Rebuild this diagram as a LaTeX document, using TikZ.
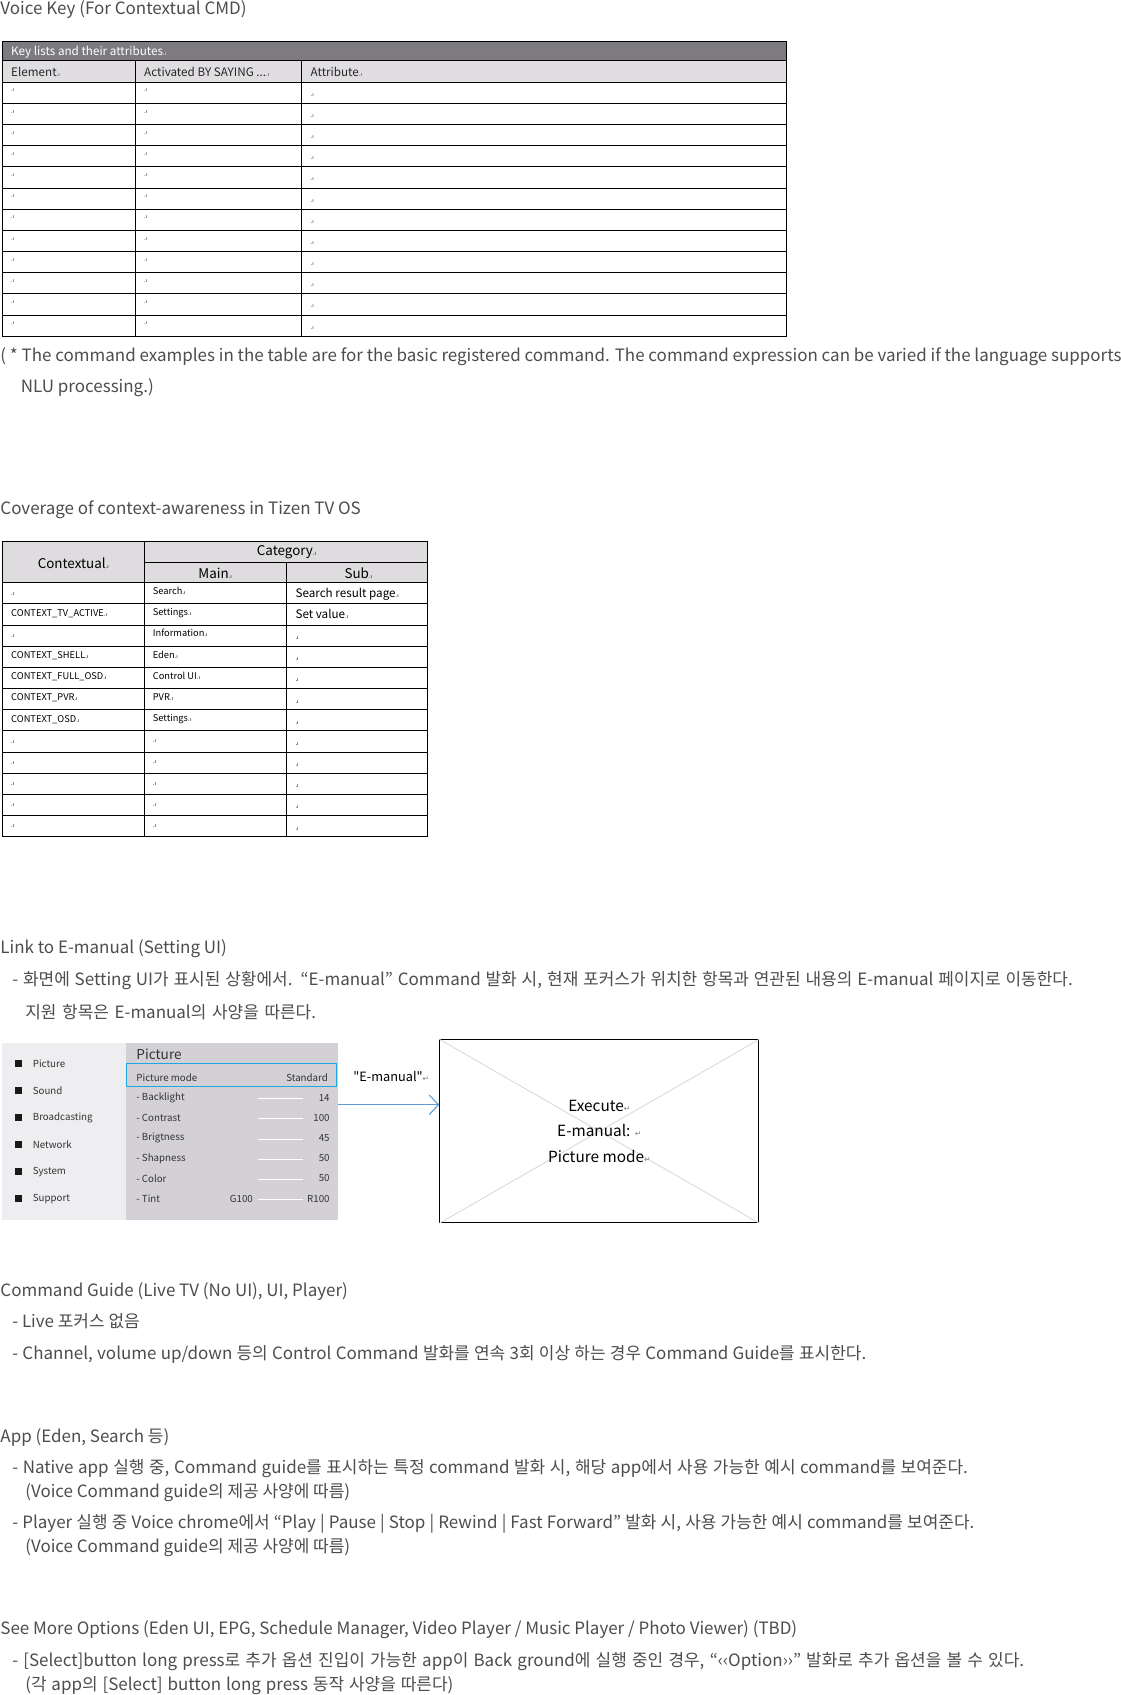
\documentclass[tikz,border=0pt]{standalone}
\usepackage{fontspec}
\setmainfont{Noto Sans CJK KR}
\newfontfamily\symfont{DejaVu Sans}
\newfontfamily\plainfont{Noto Sans CJK KR}
\usetikzlibrary{arrows.meta,positioning}

\definecolor{bodygray}{HTML}{4D4D4D}
\definecolor{keyhead}{HTML}{7D7B7F}
\definecolor{colhead}{HTML}{E0DEE1}
\definecolor{ctxhead}{HTML}{DEDCDE}
\definecolor{menubg}{HTML}{EEEDF0}
\definecolor{panelbg}{HTML}{D4D1D6}
\definecolor{focusblue}{HTML}{1EA6E4}
\definecolor{linkblue}{HTML}{5B9BD5}
\definecolor{crossgray}{HTML}{D9D9D9}

\newcommand{\cellmark}{{\symfont\fontsize{2.4}{3}\selectfont .ı}}
\newcommand{\retmark}{{\symfont\color{gray}\fontsize{3.6}{4}\selectfont ↵}}
\newcommand{\fitline}[2]{\makebox[#1][s]{#2}}

\tikzset{
  body/.style={anchor=base west, inner sep=0pt, text=bodygray,
    font=\fontsize{7.85}{9}\selectfont},
  tabline/.style={draw=black, line width=0.45pt},
  keytext/.style={anchor=base west, inner sep=0pt, text=black!85,
    font=\fontsize{5.4}{6}\selectfont},
  ctxtext/.style={anchor=base west, inner sep=0pt,
    font=\fontsize{4.3}{5}\selectfont},
  ctxtitle/.style={inner sep=0pt, font=\fontsize{6.2}{7}\selectfont},
  subtext/.style={anchor=base west, inner sep=0pt,
    font=\fontsize{5.4}{6}\selectfont},
  uitext/.style={anchor=west, inner sep=0pt, text=black!80,
    font=\fontsize{4.5}{5}\selectfont},
  uivalue/.style={anchor=east, inner sep=0pt, text=black!80,
    font=\fontsize{4.5}{5}\selectfont},
  menubox/.style={fill=black!90, inner sep=0pt, minimum size=3.1pt},
  linkarrow/.style={draw=linkblue, line width=0.5pt,
    -{Straight Barb[length=4.3pt,width=9pt]}}
}

\begin{document}
\begin{tikzpicture}[x=0.5pt,y=-0.5pt]
	\useasboundingbox (0,0) rectangle (1037,1568);
	\fill[white] (0,0) rectangle (1037,1568);

	% Voice key table
	\node[body] (title1) at (0,13) {Voice Key (For Contextual CMD)};
	\fill[keyhead] (2,38) rectangle (728,56);
	\fill[colhead] (2,56) rectangle (728,76);
	\draw[tabline] (2,38) rectangle (728,311);
	\draw[tabline] (2,56) -- (728,56);
	\foreach \i in {0,...,11}
		\draw[tabline] (2,{76+19.583*\i}) -- (728,{76+19.583*\i});
	\foreach \x in {125,279}
		\draw[tabline] (\x,56) -- (\x,311);
	\node[keytext, text=white] (keytitle) at (10,51) {Key lists and their attributes\cellmark};
	\node[keytext] (keyelem) at (10,70.5) {Element\cellmark};
	\node[keytext] (keysay) at (133,70.5) {Activated BY SAYING ...\cellmark};
	\node[keytext] (keyattr) at (287,70.5) {Attribute\cellmark};
	\foreach \i in {0,...,11} {
		\node[keytext] (ke\i) at (10,{76+19.583*\i+9}) {\cellmark};
		\node[keytext] (ks\i) at (133,{76+19.583*\i+9}) {\cellmark};
		\node[keytext] (ka\i) at (287,{76+19.583*\i+13}) {\cellmark};
	}
	\node[body] (note1) at (0,334) {( * The command examples in the table are for the basic registered command. The command expression can be varied if the language supports};
	\node[body] (note2) at (19,363) {NLU processing.)};

	% Context table
	\node[body] (title2) at (0,476) {Coverage of context-awareness in Tizen TV OS};
	\fill[ctxhead] (2,501) rectangle (395.5,539);
	\draw[tabline] (2,501) rectangle (395.5,774);
	\draw[tabline] (133.5,520) -- (395.5,520);
	\draw[tabline] (133.5,501) -- (133.5,774);
	\draw[tabline] (265,520) -- (265,774);
	\foreach \i in {0,...,11}
		\draw[tabline] (2,{539+19.583*\i}) -- (395.5,{539+19.583*\i});
	\node[ctxtitle] (ctxhd) at (67.75,521) {Contextual\cellmark};
	\node[ctxtitle] (cathd) at (265,511) {Category\cellmark};
	\node[ctxtitle] (mainhd) at (199,530.3) {Main\cellmark};
	\node[ctxtitle] (subhd) at (331.5,530.3) {Sub\cellmark};
	\foreach \ctx/\main/\sub [count=\i from 0] in {
		\cellmark/Search\cellmark/Search result page\cellmark,
		CONTEXT\_TV\_ACTIVE\cellmark/Settings\cellmark/Set value\cellmark,
		\cellmark/Information\cellmark/\cellmark,
		CONTEXT\_SHELL\cellmark/Eden\cellmark/\cellmark,
		CONTEXT\_FULL\_OSD\cellmark/Control UI\cellmark/\cellmark,
		CONTEXT\_PVR\cellmark/PVR\cellmark/\cellmark,
		CONTEXT\_OSD\cellmark/Settings\cellmark/\cellmark,
		\cellmark/\cellmark/\cellmark,
		\cellmark/\cellmark/\cellmark,
		\cellmark/\cellmark/\cellmark,
		\cellmark/\cellmark/\cellmark,
		\cellmark/\cellmark/\cellmark} {
		\node[ctxtext] (cc\i) at (10,{539+19.583*\i+11.5}) {\ctx};
		\node[ctxtext] (cm\i) at (141,{539+19.583*\i+11}) {\main};
		\node[subtext] (cs\i) at (273,{539+19.583*\i+13.5}) {\sub};
	}

	% Link to E-manual
	\node[body] (title3) at (0,882) {Link to E-manual (Setting UI)};
	\node[body] (t3a) at (11,912) {\fitline{490.5pt}{- 화면에 Setting UI가 표시된 상황에서. “E-manual” Command 발화 시, 현재 포커스가 위치한 항목과 연관된 내용의 E-manual 페이지로 이동한다.}};
	\node[body] (t3b) at (23,942) {\fitline{134.5pt}{지원 항목은 E-manual의 사양을 따른다.}};

	% setting UI
	\node[fill=menubg, inner sep=0pt, minimum width=57.55pt, minimum height=82.25pt,
		anchor=north west] (menu) at (1.5,964) {};
	\node[fill=panelbg, inner sep=0pt, minimum width=97.85pt, minimum height=82.25pt,
		anchor=north west] (rpanel) at (116.6,964) {};
	\foreach \item [count=\i from 0] in {Picture,Sound,Broadcasting,Network,System,Support} {
		\node[menubox] (mb\i) at (17,{984+25*\i}) {};
		\node[uitext] (mt\i) at (30,{984+25*\i}) {\item};
	}
	\node[uitext, font=\fontsize{6.3}{7}\selectfont] (ptitle) at (125.8,975.3) {Picture};
	\draw[focusblue, line width=0.6pt] (117,983.8) rectangle (311.6,1005);
	\node[uitext] (pmode) at (125.8,996.8) {Picture mode};
	\node[uivalue] (pstd) at (303.7,996.8) {Standard};
	\foreach \lab/\val [count=\i from 0] in {Backlight/14,Contrast/100,Brigtness/45,Shapness/50,Color/50,Tint/R100} {
		\node[uitext] (pl\i) at (125.8,{1015.7+18.6*\i}) {-\ \lab};
		\draw[white, line width=0.5pt] (239,{1016.5+18.6*\i}) -- (280.6,{1016.5+18.6*\i});
		\node[uivalue] (pv\i) at (305.3,{1015.7+18.6*\i}) {\val};
	}
	\node[uivalue] (pg) at (234.3,1108.8) {G100};

	% E-manual page
	\node[draw=black, line width=0.5pt, inner sep=0pt, minimum width=147.55pt,
		minimum height=84.6pt, anchor=north west] (ebox) at (406.4,961.4) {};
	\draw[crossgray, line width=0.4pt] (ebox.north west) -- (ebox.south east);
	\draw[crossgray, line width=0.4pt] (ebox.south west) -- (ebox.north east);
	\node[align=center, inner sep=0pt, font=\fontsize{7.1}{11.7}\selectfont]
		(etext) at (ebox.center) {Execute\retmark\\E-manual: \retmark\\Picture mode\retmark};

	% Arrows
	\coordinate (arwy) at (0,1022);
	\draw[linkarrow] (rpanel.east |- arwy) -- (ebox.west |- arwy);
	\node[inner sep=0pt, font=\plainfont\fontsize{5.9}{7}\selectfont] (elabel) at (362,996) {"E-manual"\retmark};

	% Command guide
	\node[body] (title4) at (0,1199) {Command Guide (Live TV (No UI), UI, Player)};
	\node[body] (t4a) at (11,1228) {- Live 포커스 없음};
	\node[body] (t4b) at (11,1258) {\fitline{395pt}{- Channel, volume up/down 등의 Control Command 발화를 연속 3회 이상 하는 경우 Command Guide를 표시한다.}};

	% App
	\node[body] (title5) at (0,1334) {App (Eden, Search 등)};
	\node[body] (t5a) at (11,1363) {\fitline{442pt}{- Native app 실행 중, Command guide를 표시하는 특정 command 발화 시, 해당 app에서 사용 가능한 예시 command를 보여준다.}};
	\node[body] (t5b) at (23,1385) {(Voice Command guide의 제공 사양에 따름)};
	\node[body] (t5c) at (11,1414) {\fitline{445pt}{- Player 실행 중 Voice chrome에서 “Play | Pause | Stop | Rewind | Fast Forward” 발화 시, 사용 가능한 예시 command를 보여준다.}};
	\node[body] (t5d) at (23,1436) {(Voice Command guide의 제공 사양에 따름)};

	% See more options
	\node[body] (title6) at (0,1512) {See More Options (Eden UI, EPG, Schedule Manager, Video Player / Music Player / Photo Viewer) (TBD)};
	\node[body] (t6a) at (11,1542) {\fitline{468pt}{- [Select]button long press로 추가 옵션 진입이 가능한 app이 Back ground에 실행 중인 경우, “‹‹Option››” 발화로 추가 옵션을 볼 수 있다.}};
	\node[body] (t6b) at (23,1564) {\fitline{198pt}{(각 app의 [Select] button long press 동작 사양을 따른다)}};
\end{tikzpicture}
\end{document}
